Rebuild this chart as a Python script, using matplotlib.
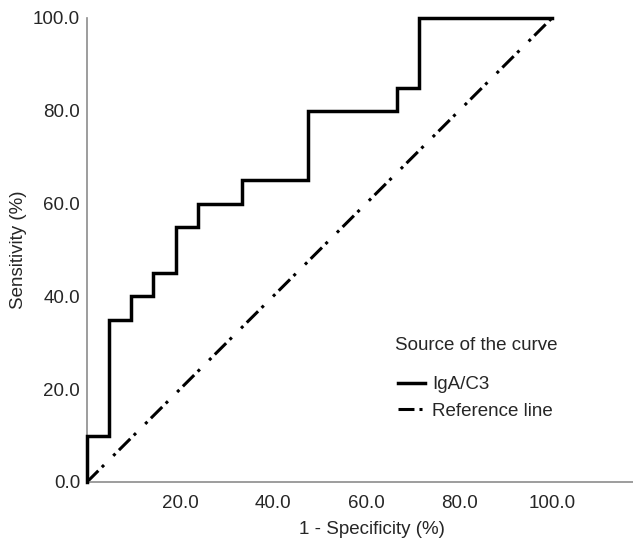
import matplotlib.pyplot as plt
import numpy as np

plt.rcParams['font.family'] = ['Liberation Sans', 'DejaVu Sans']
plt.rcParams['lines.scale_dashes'] = False

# ROC 曲线数据 (21 个阴性, 20 个阳性)
fpr_steps = [0, 0, 1, 2, 3, 4, 5, 7, 10, 14, 15, 21]
tpr_steps = [0, 10, 35, 40, 45, 55, 60, 65, 80, 85, 100, 100]
n_neg = 21
ref_x = [0, 100]
ref_y = [0, 100]
tick_vals_x = [20, 40, 60, 80, 100]
tick_vals_y = [0, 20, 40, 60, 80, 100]

fpr = np.array(fpr_steps) / n_neg * 100
tpr = np.array(tpr_steps)

txt = '#262626'
fs = 13.5

fig = plt.figure(figsize=(6.33, 5.42), dpi=100)
ax = fig.add_axes([87/633, 60/542, 546/633, 464/542])

ax.step(fpr, tpr, where='post', color='black', lw=2.5, label='IgA/C3',
        clip_on=False, solid_joinstyle='miter', zorder=3)
ax.plot(ref_x, ref_y, color='black', lw=2.2, label='Reference line',
        linestyle=(0, (11.5, 3.6, 2.2, 9.4, 2.2, 3.6)), clip_on=False, zorder=2)

ax.set_xlim(0, 546/4.65)
ax.set_ylim(0, 100)
ax.set_xticks(tick_vals_x)
ax.set_yticks(tick_vals_y)
ax.set_xticklabels(['%.1f' % v for v in tick_vals_x])
ax.set_yticklabels(['%.1f' % v for v in tick_vals_y])
ax.tick_params(axis='both', length=0, labelsize=fs, labelcolor=txt)
ax.tick_params(axis='x', pad=9)
ax.tick_params(axis='y', pad=5)

for s in ['top', 'right']:
    ax.spines[s].set_visible(False)
for s in ['left', 'bottom']:
    ax.spines[s].set_color('#8c8c8c')
    ax.spines[s].set_linewidth(1.2)

ax.set_xlabel('1 - Specificity (%)', fontsize=fs, color=txt, va='center')
ax.set_ylabel('Sensitivity (%)', fontsize=fs, color=txt, va='center')
ax.xaxis.set_label_coords(0.521, -0.103)
ax.yaxis.set_label_coords(-0.125, 0.5)

# 图例标题单独放置
fig.text(395/633, 1 - 345/542, 'Source of the curve', fontsize=fs, color=txt,
         ha='left', va='center')
leg = ax.legend(loc='upper left',
                bbox_to_anchor=(398/633, 1 - 376/542), bbox_transform=fig.transFigure,
                frameon=False, fontsize=fs,
                handlelength=1.45, handletextpad=0.37, labelspacing=0.5,
                borderpad=0, borderaxespad=0)
for t in leg.get_texts():
    t.set_color(txt)

fig.savefig('out.png', dpi=100)
